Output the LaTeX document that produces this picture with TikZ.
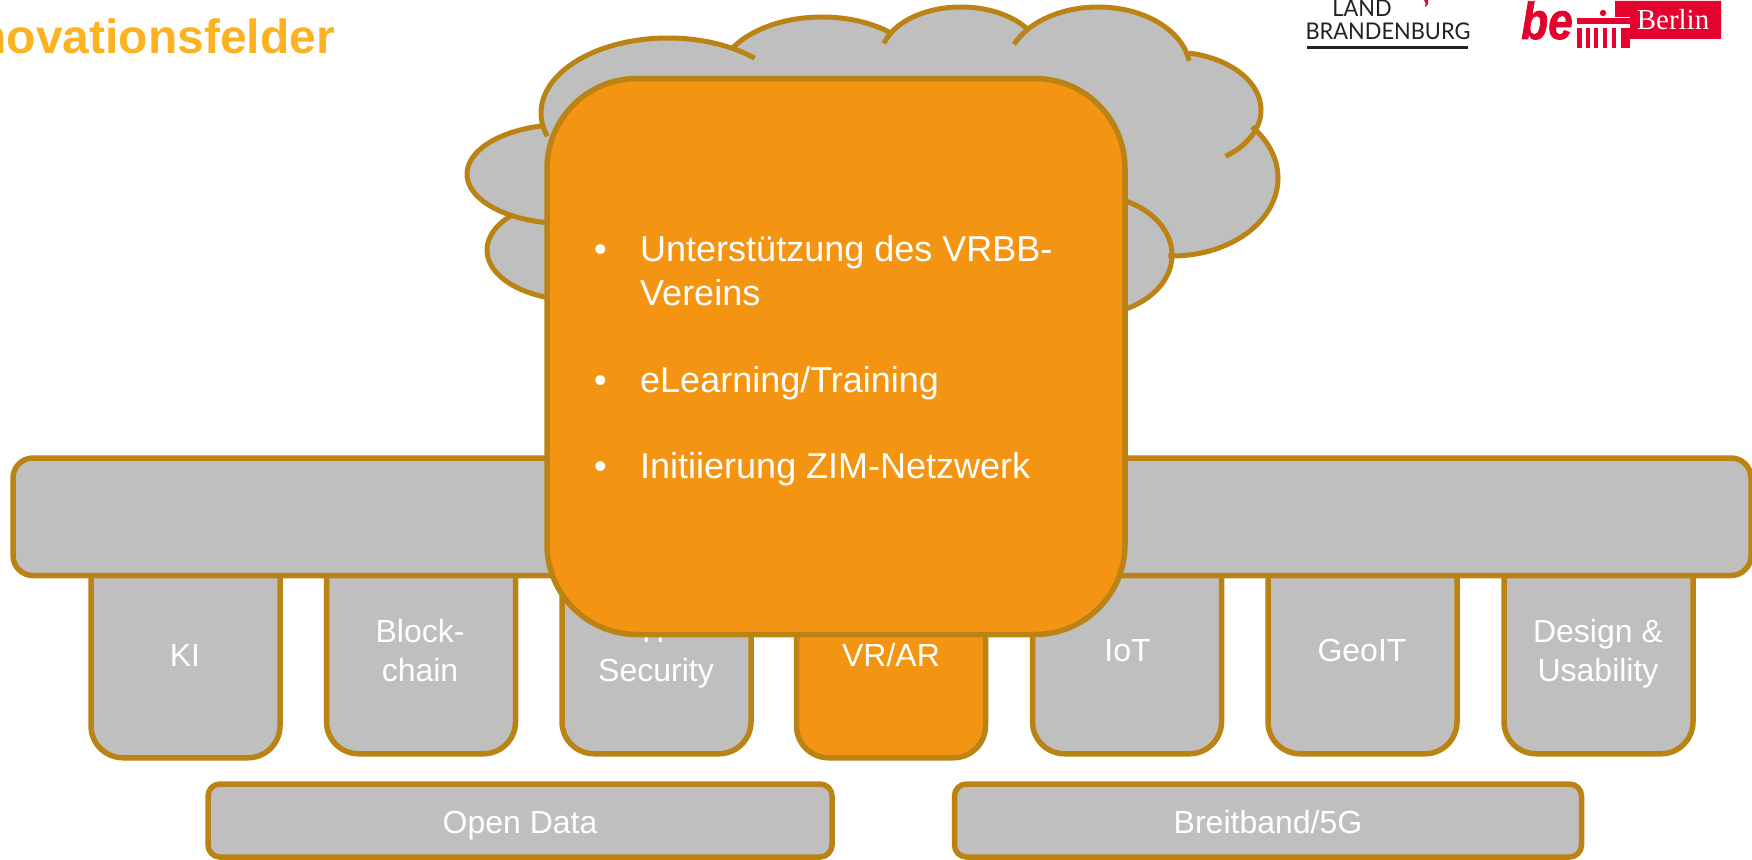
\documentclass[tikz,border=0pt]{standalone}
\usepackage{fontspec}
\setmainfont{Liberation Sans}
\newfontfamily\brandfont{Lato}
\newfontfamily\berlinfont{Liberation Serif}
\newfontfamily\befont{Liberation Sans}[BoldItalicFeatures={FakeBold=1.5}]
\definecolor{strokegold}{HTML}{BA8314}
\definecolor{boxgray}{HTML}{BFBFBF}
\definecolor{boxorange}{HTML}{F39412}
\definecolor{titleorange}{HTML}{FDB321}
\definecolor{berlinred}{HTML}{E4032E}
\definecolor{brandblack}{HTML}{222222}
\tikzset{
  panel/.style={draw=strokegold,line width=5.5pt,fill=boxgray,inner sep=0pt,outer sep=0pt},
  pillar/.style={panel,rounded corners=32pt,minimum width=189pt},
  wide/.style={panel,rounded corners=12pt,minimum height=73pt},
  lab/.style={text=white,anchor=base,inner sep=0pt,font=\fontsize{32}{38}\selectfont},
  body/.style={text=white,anchor=base west,inner sep=0pt,font=\fontsize{36}{44}\selectfont},
  lobeline/.style={draw=strokegold,line width=5pt},
  lobefill/.style={fill=boxgray,draw=boxgray,line width=1pt},
}
% cx/cy/rx/ry/start angle/end angle of each lobe of the cloud
\def\lobes{575/250/88/50/100/223,
           565/174/98/49.5/97/258,
           668/113/127/75/162/313,
           822/82/105/65/212/310,
           961/57/80/50/195.7/327,
           1098/70/92/63/204/351.6,
           1172/110/89/58/281/413,
           1172/178/106/78/319/452,
           1090/255/82/60/-70/70}
\begin{document}
\begin{tikzpicture}[x=1pt,y=-1pt]
\useasboundingbox (0,0) rectangle (1752,859);
\clip (0,0) rectangle (1752,859);
% cloud
\fill[lobefill] (560,297)--(511,216)--(544,125)--(733,46)--(820,30)--(890,31)--(961,20)--(1028,28)--(1100,20)--(1189,55)--(1250,133)--(1172,255)--(1126,308)--cycle;
\foreach \cx/\cy/\rx/\ry/\sa/\ea in \lobes{
  \path[lobefill] plot[domain=\sa:\ea,samples=50,smooth] ({\cx+\rx*cos(\x)},{\cy+\ry*sin(\x)}) -- cycle;
}
\foreach \cx/\cy/\rx/\ry/\sa/\ea in \lobes{
  \draw[lobeline] plot[domain=\sa:\ea,samples=50,smooth] ({\cx+\rx*cos(\x)},{\cy+\ry*sin(\x)});
}
% pillars
\node[pillar,minimum height=257.5pt] (ki) at (185.5,629) {};
\node[pillar,minimum height=253.5pt] (block) at (421,627) {};
\node[pillar,minimum height=253.5pt] (sec) at (656.5,627) {};
\node[pillar,minimum height=257.5pt,fill=boxorange] (vr) at (891,629) {};
\node[pillar,minimum height=253.5pt] (iot) at (1127,627) {};
\node[pillar,minimum height=253.5pt] (geo) at (1362.5,627) {};
\node[pillar,minimum height=253.5pt] (design) at (1598.5,627) {};
\node[lab] (kitext) at (185,666) {KI};
\node[lab] (blocka) at (420,642) {Block-};
\node[lab] (blockb) at (420,681) {chain};
\node[lab] (seca) at (656,642) {IT};
\node[lab] (secb) at (656,681) {Security};
\node[lab] (vrtext) at (891,666) {VR/AR};
\node[lab] (iottext) at (1127.5,661) {IoT};
\node[lab] (geotext) at (1362,661) {GeoIT};
\node[lab] (designa) at (1598,642) {Design \&};
\node[lab] (designb) at (1598,681) {Usability};
% bar
\node[panel,rounded corners=20pt,minimum width=1738pt,minimum height=117.5pt] (bar) at (882,516.75) {};
% lower boxes
\node[wide,minimum width=624pt] (open) at (520,820.5) {};
\node[wide,minimum width=627pt] (broad) at (1268,820.5) {};
\node[lab] (opentext) at (520,833) {Open Data};
\node[lab] (broadtext) at (1268,833) {Breitband/5G};
% big orange
\node[panel,fill=boxorange,rounded corners=90pt,minimum width=578pt,minimum height=556pt] (focus) at (836,356.5) {};
\node[body] (bullet1) at (594,261.5) {•};
\node[body] (b1a) at (640,261.5) {Unterstützung des VRBB-};
\node[body] (b1b) at (640,305.5) {Vereins};
\node[body] (bullet2) at (594,392) {•};
\node[body] (b2) at (640,392) {eLearning/Training};
\node[body] (bullet3) at (594,478.5) {•};
\node[body] (b3) at (640,478.5) {Initiierung ZIM-Netzwerk};
% title
\node[anchor=base east,inner sep=0pt,text=titleorange,font=\fontsize{48}{50}\selectfont\bfseries] (title) at (335,53) {novationsfelder};
% Brandenburg logo
\node[anchor=base,inner sep=0pt,xscale=0.95,text=brandblack,font=\fontsize{23}{25}\selectfont\brandfont] (land) at (1362,17) {LAND};
\node[anchor=base,inner sep=0pt,xscale=0.95,text=brandblack,font=\fontsize{23}{25}\selectfont\brandfont] (brand) at (1388,40) {BRANDENBURG};
\fill[brandblack] (1307,46.5) rectangle (1468,49);
\fill[berlinred] (1424,0) -- (1428,0) .. controls (1429,3) and (1428,5) .. (1425,7) .. controls (1426,4) and (1426,2) .. (1424,0) -- cycle;
% Berlin logo
\node[anchor=base west,inner sep=0pt,text=berlinred,xscale=0.85,font=\fontsize{52}{52}\selectfont\befont\bfseries\itshape] (be) at (1521,39) {be};
\fill[berlinred] (1615,1) -- (1721,1) -- (1721,39) -- (1630,39) -- (1630,17) -- (1615,17) -- cycle;
\fill[berlinred] (1577,18.5) rectangle (1630,24);
\fill[berlinred] (1603,13) circle (3.2);
\foreach \a/\b in {1577/1582,1586/1590,1594/1598,1603/1607,1612/1616,1621/1630}{
  \fill[berlinred] (\a,28) rectangle (\b,48.5);
}
\node[anchor=base,inner sep=0pt,text=white,font=\fontsize{29}{29}\selectfont\berlinfont] (berlin) at (1673,30) {Berlin};
\end{tikzpicture}
\end{document}
